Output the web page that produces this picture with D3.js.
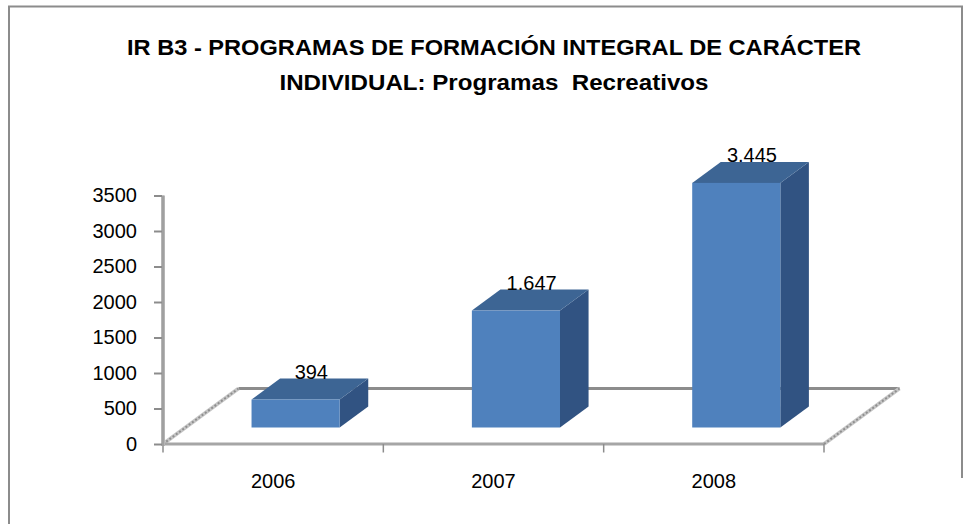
<!DOCTYPE html>
<html>
<head>
<meta charset="utf-8">
<script src="https://cdn.jsdelivr.net/npm/d3@7"></script>
<style>
  html, body { margin: 0; padding: 0; background: #fff; }
  svg { display: block; }
  text { font-family: "Liberation Sans", Arial, sans-serif; fill: #000; }
</style>
</head>
<body>
<svg id="chart" width="971" height="524"></svg>
<script>
// Data
const categories = ["2006", "2007", "2008"];
const values = [394, 1647, 3445];
const valueLabels = ["394", "1.647", "3.445"];
const yTicks = [0, 500, 1000, 1500, 2000, 2500, 3000, 3500];
const titleLines = [
  "IR B3 - PROGRAMAS DE FORMACIÓN INTEGRAL DE CARÁCTER",
  "INDIVIDUAL: Programas  Recreativos"
];

const svg = d3.select("#chart");

// Chart area frame
svg.append("path")
  .attr("d", "M9,524 V6.5 H962 V478")
  .attr("fill", "none")
  .attr("stroke", "#8c8c8c")
  .attr("stroke-width", 2);

// Title
const titleLayout = [
  { y: 55, len: 734 },
  { y: 89.5, len: 429 }
];
svg.selectAll("text.title")
  .data(titleLines)
  .join("text")
  .attr("class", "title")
  .attr("x", 494)
  .attr("y", (d, i) => titleLayout[i].y)
  .attr("text-anchor", "middle")
  .attr("font-size", 22)
  .attr("font-weight", "bold")
  .attr("textLength", (d, i) => titleLayout[i].len)
  .attr("lengthAdjust", "spacingAndGlyphs")
  .style("white-space", "pre")
  .text(d => d);

// Scales (front plane of the 3D plot)
const x = d3.scaleBand().domain(categories).range([163, 824]).padding(0);
const y = d3.scaleLinear().domain([0, 3500]).range([444, 195.5]);

// Oblique depth direction (per unit of depth: dx, dy)
const dir = [1.36, -1];
const floorDepth = 55.5;   // depth of the floor
const barGap = 16.5;       // depth from front edge to bar front face
const barDepth = 21;       // bar thickness in depth

const y0 = y(0);
const floorBack = [dir[0] * floorDepth, dir[1] * floorDepth];

// Floor outline
const floor = svg.append("g");
floor.append("line")
  .attr("x1", x.range()[0] + floorBack[0]).attr("y1", y0 + floorBack[1])
  .attr("x2", x.range()[1] + floorBack[0]).attr("y2", y0 + floorBack[1])
  .attr("stroke", "#8c8c8c").attr("stroke-width", 3);
[x.range()[0], x.range()[1]].forEach(px => {
  floor.append("line")
    .attr("x1", px).attr("y1", y0)
    .attr("x2", px + floorBack[0]).attr("y2", y0 + floorBack[1])
    .attr("stroke", "#c6c6c6").attr("stroke-width", 4);
  floor.append("line")
    .attr("x1", px).attr("y1", y0)
    .attr("x2", px + floorBack[0]).attr("y2", y0 + floorBack[1])
    .attr("stroke", "#8f8f8f").attr("stroke-width", 2)
    .attr("stroke-dasharray", "2,2");
});

// Bars
const bw = x.bandwidth() * 0.4;
const off = [dir[0] * barGap, dir[1] * barGap];
const dep = [dir[0] * barDepth, dir[1] * barDepth];

const bars = svg.append("g").selectAll("g")
  .data(categories.map((c, i) => ({ c, v: values[i], label: valueLabels[i] })))
  .join("g");

bars.each(function(d) {
  const g = d3.select(this);
  const x0 = x(d.c) + (x.bandwidth() - bw) / 2 + off[0];
  const x1 = x0 + bw;
  const yb = y0 + off[1];
  const yt = y(d.v) + off[1];
  // right side
  g.append("polygon")
    .attr("points", [[x1, yt], [x1 + dep[0], yt + dep[1]], [x1 + dep[0], yb + dep[1]], [x1, yb]].join(" "))
    .attr("fill", "#315382");
  // top
  g.append("polygon")
    .attr("points", [[x0, yt], [x1, yt], [x1 + dep[0], yt + dep[1]], [x0 + dep[0], yt + dep[1]]].join(" "))
    .attr("fill", "#3d6594");
  // front
  g.append("rect")
    .attr("x", x0).attr("y", yt)
    .attr("width", bw).attr("height", yb - yt)
    .attr("fill", "#4f81bd");
  // value label
  g.append("text")
    .attr("x", x0 + bw / 2 + dep[0] * 0.55)
    .attr("y", yt + dep[1] + 0.5)
    .attr("text-anchor", "middle")
    .attr("font-size", 20)
    .text(d.label);
});

// Front edge of the floor (category axis line)
svg.append("line")
  .attr("x1", x.range()[0]).attr("y1", y0)
  .attr("x2", x.range()[1]).attr("y2", y0)
  .attr("stroke", "#a6a6a6").attr("stroke-width", 3);

// Category boundary ticks
const bounds = categories.map(c => x(c)).concat([x.range()[1]]);
svg.append("g").selectAll("line")
  .data(bounds)
  .join("line")
  .attr("x1", d => d).attr("x2", d => d)
  .attr("y1", y0).attr("y2", y0 + 8.5)
  .attr("stroke", "#8c8c8c").attr("stroke-width", 1.5);

// Category labels
const xAxis = svg.append("g")
  .attr("transform", `translate(0,${y0})`)
  .call(d3.axisBottom(x).tickSize(0).tickPadding(30));
xAxis.select(".domain").remove();
xAxis.selectAll("text")
  .attr("font-size", 20)
  .attr("font-family", "Liberation Sans, Arial, sans-serif")
  .attr("fill", "#000");

// Value axis
svg.append("line")
  .attr("x1", 163).attr("x2", 163)
  .attr("y1", y(3500)).attr("y2", y0 + 2)
  .attr("stroke", "#b5b5b5").attr("stroke-width", 4);
svg.append("line")
  .attr("x1", 163).attr("x2", 163)
  .attr("y1", y(3500)).attr("y2", y0 + 2)
  .attr("stroke", "#9a9a9a").attr("stroke-width", 1.5);

const yAxis = svg.append("g")
  .attr("transform", "translate(162,0)")
  .call(d3.axisLeft(y).tickValues(yTicks).tickSize(8).tickPadding(17).tickFormat(d3.format("d")));
yAxis.select(".domain").remove();
yAxis.selectAll(".tick line").attr("stroke", "#8c8c8c").attr("stroke-width", 2);
yAxis.selectAll("text")
  .attr("font-size", 20)
  .attr("font-family", "Liberation Sans, Arial, sans-serif")
  .attr("fill", "#000");
</script>
</body>
</html>
